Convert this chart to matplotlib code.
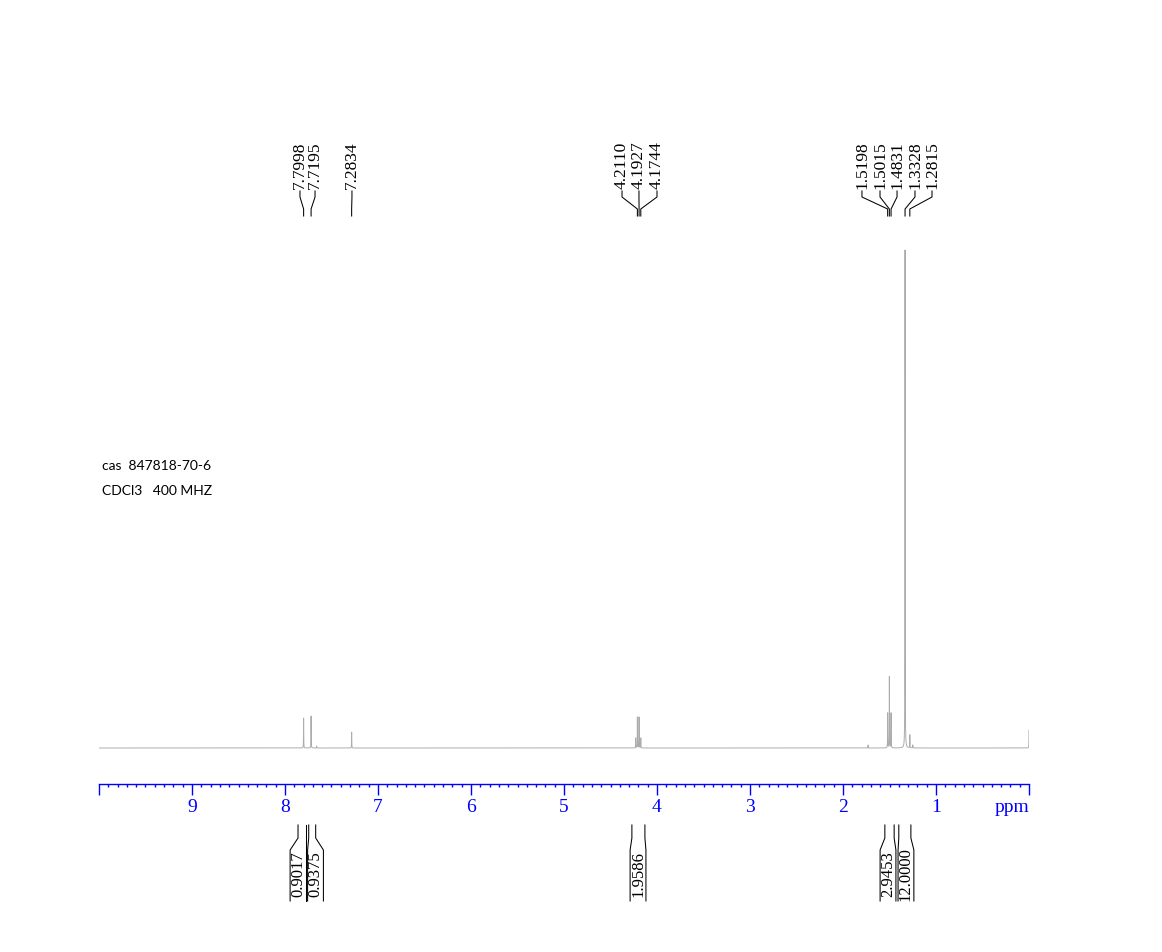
import numpy as np
import matplotlib.pyplot as plt
from matplotlib.ticker import FixedLocator, MultipleLocator

# peak list: position (ppm) and relative height (tallest = 1)
peak_ppm = [7.7998, 7.7195, 7.66, 7.2834,
            4.2293, 4.2110, 4.1927, 4.1744,
            1.73, 1.5198, 1.5015, 1.4831, 1.3328, 1.2815, 1.25, 0.0]
peak_height = [0.060, 0.064, 0.004, 0.032,
               0.020, 0.062, 0.062, 0.020,
               0.006, 0.070, 0.143, 0.070, 1.000, 0.026, 0.006, 0.036]
line_width_ppm = 0.0012

# peak picking labels shown above the spectrum
label_ppm = [7.7998, 7.7195, 7.2834, 4.2110, 4.1927, 4.1744,
             1.5198, 1.5015, 1.4831, 1.3328, 1.2815]
label_text = ['7.7998', '7.7195', '7.2834', '4.2110', '4.1927', '4.1744',
              '1.5198', '1.5015', '1.4831', '1.3328', '1.2815']
# where the label text sits (ppm), spread apart so they do not overlap
label_pos = [7.839, 7.677, 7.280, 4.376, 4.194, 4.000,
             1.796, 1.602, 1.419, 1.226, 1.043]

# integrals: region limits (ppm) and values
int_start = [7.86, 7.745, 4.27, 1.55, 1.40]
int_end = [7.775, 7.67, 4.13, 1.45, 1.27]
int_value = ['0.9017', '0.9375', '1.9586', '2.9453', '12.0000']
int_pos = [7.860, 7.672, 4.204, 1.516, 1.323]

W, H = 1162, 952
fig = plt.figure(figsize=(W / 100, H / 100), dpi=100)
ax = fig.add_axes([99 / W, 0, 930 / W, 1])

# pixel row -> axes fraction (axes spans the whole figure height)
def fy(py):
    return 1 - py / H

# build spectrum from lorentzian lines
x = np.linspace(10, 0, 200001)
y = np.zeros_like(x)
for p, h in zip(peak_ppm, peak_height):
    y += h / (1 + ((x - p) / line_width_ppm) ** 2)

ax.plot(x, y, color='#acacac', lw=0.7)
ax.set_xlim(10, 0)
ax.set_ylim(-204 / 498, 748 / 498)

# ppm scale
for s in ['top', 'left', 'right']:
    ax.spines[s].set_visible(False)
ax.spines['bottom'].set_position(('axes', fy(784)))
ax.spines['bottom'].set_color('blue')
ax.spines['bottom'].set_linewidth(1.0)
ax.yaxis.set_visible(False)
major = list(range(0, 11))
ax.xaxis.set_major_locator(FixedLocator(major))
ax.xaxis.set_minor_locator(MultipleLocator(0.1))
ax.set_xticklabels(['' if (m == 0 or m == 10) else str(m) for m in major])
ax.tick_params(axis='x', which='major', direction='out', length=8, width=1,
               color='blue', labelcolor='blue', labelsize=14, pad=3)
ax.tick_params(axis='x', which='minor', direction='out', length=2.5, width=1,
               color='blue')
for t in ax.get_xticklabels():
    t.set_fontfamily('Liberation Serif')
tr = ax.get_xaxis_transform()
ax.text(0, fy(808), 'ppm', transform=tr, ha='right', va='center',
        color='blue', fontsize=14, family='Liberation Serif')

# peak labels with leader lines
for p, lab, lp in zip(label_ppm, label_text, label_pos):
    ax.plot([lp, lp, p, p], [fy(191), fy(197), fy(209), fy(216)],
            color='black', lw=0.75, transform=tr, clip_on=False)
    ax.text(lp, fy(189), lab, transform=tr, rotation=90, ha='center',
            va='bottom', fontsize=12.5, family='Liberation Serif')

# integral brackets
half = 0.085
for a, b, v, lp in zip(int_start, int_end, int_value, int_pos):
    ax.plot([a, a, lp + half, lp + half], [fy(825), fy(838), fy(850), fy(901)],
            color='black', lw=0.75, transform=tr, clip_on=False)
    ax.plot([b, b, lp - half, lp - half], [fy(825), fy(838), fy(850), fy(901)],
            color='black', lw=0.75, transform=tr, clip_on=False)
    ax.text(lp, fy(874), v, transform=tr, rotation=90, ha='center',
            va='center', fontsize=12, family='Liberation Serif')

# sample info
fig.text(102 / W, fy(466), 'cas  847818-70-6', ha='left', va='center',
         fontsize=10, family='Lato')
fig.text(102 / W, fy(491), 'CDCl3   400 MHZ', ha='left', va='center',
         fontsize=10, family='Lato')

fig.savefig('out.png', dpi=100)
